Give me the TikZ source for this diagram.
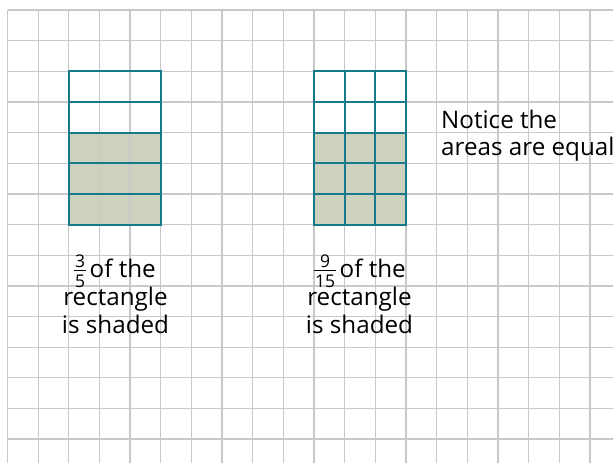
\documentclass[tikz,border=0pt]{standalone}
\usepackage{fontspec}
\setmainfont{Open Sans}
\definecolor{gridc}{HTML}{C9C9C9}
\definecolor{tealc}{HTML}{17798A}
\definecolor{shadec}{HTML}{CCD2BE}
\newcommand{\myfrac}[2]{\raisebox{-10pt}{\fontsize{17.5}{17.5}\selectfont
  \setbox0\hbox{#1}\setbox2\hbox{#2}\dimen0=\wd0
  \ifdim\wd2>\dimen0 \dimen0=\wd2\fi
  \advance\dimen0 by 2pt
  \vbox{\hbox to\dimen0{\hss#1\hss}\kern2.6pt\hrule width\dimen0 height 0.9pt\kern3.3pt\hbox to\dimen0{\hss#2\hss}}}\kern3.5pt}
\begin{document}
\begin{tikzpicture}[x=1pt,y=-1pt,
  gridline/.style={draw=gridc,line width=1.3pt},
  tealline/.style={draw=tealc,line width=2pt},
  shade/.style={fill=shadec},
  lbl/.style={font=\fontsize{24.2}{24.2}\selectfont,inner sep=0pt,anchor=base}]
\useasboundingbox (0,0) rectangle (613,463);
% shading
\fill[shade] (69,132.6) rectangle (161,224.55);
\fill[shade] (314.1,132.6) rectangle (406,224.55);
% grid
\foreach \k in {0,...,19} {
  \draw[gridline] ({7.5+30.65*\k},10) -- ({7.5+30.65*\k},463);
}
\foreach \k in {0,...,14} {
  \draw[gridline] (7.5,{10+30.65*\k}) -- (613,{10+30.65*\k});
}
% left rectangle
\draw[tealline] (69,71.3) rectangle (161,224.55);
\foreach \k in {3,...,6} {
  \draw[tealline] (69,{10+30.65*\k}) -- (161,{10+30.65*\k});
}
% right rectangle
\draw[tealline] (314.1,71.3) rectangle (406,224.55);
\foreach \k in {3,...,6} {
  \draw[tealline] (314.1,{10+30.65*\k}) -- (406,{10+30.65*\k});
}
\foreach \x in {344.75,375.4} {
  \draw[tealline] (\x,71.3) -- (\x,224.55);
}
% labels
\node[lbl] (l1) at (115,277) {\myfrac{3}{5}of the};
\node[lbl] (l2) at (115.5,305) {rectangle};
\node[lbl] (l3) at (115.5,333.3) {is shaded};
\node[lbl] (r1) at (360,277) {\myfrac{9}{15}of the};
\node[lbl] (r2) at (359.5,305) {rectangle};
\node[lbl] (r3) at (359.5,333.3) {is shaded};
\node[lbl,anchor=base west] (n1) at (441,128.3) {Notice the};
\node[lbl,anchor=base west] (n2) at (441,155.5) {areas are equal};
\end{tikzpicture}
\end{document}
